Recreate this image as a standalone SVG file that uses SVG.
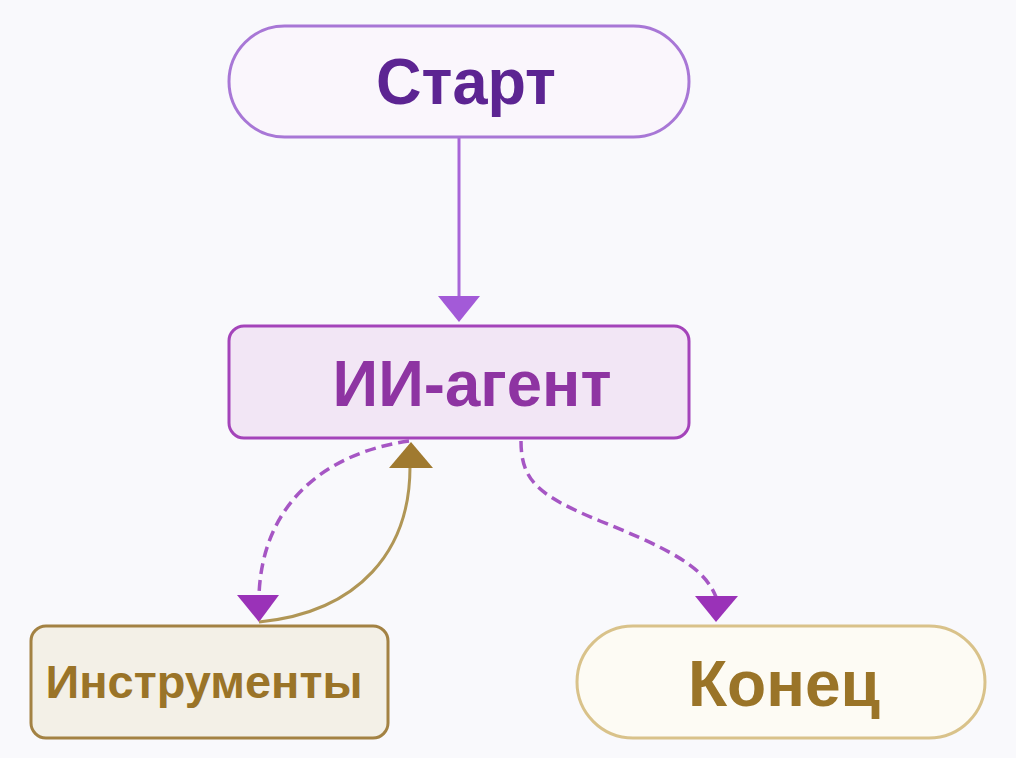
<svg xmlns="http://www.w3.org/2000/svg" width="1016" height="758" viewBox="0 0 1016 758">
<style>
text{font-family:"Liberation Sans",Arial,sans-serif;font-weight:bold;text-anchor:middle}
.purple{fill:#5c2492}
.violet{fill:#8e34a2}
.brown{fill:#9a7428}
.dash{fill:none;stroke:#a656c4;stroke-width:3.5;stroke-dasharray:11 6}
</style>
<rect width="1016" height="758" fill="#f9f9fc"/>
<g id="connectors">
<line x1="459" y1="138" x2="459" y2="297" stroke="#a866d8" stroke-width="3"/>
<polygon points="438,296 480,296 459,322" fill="#a35ad8"/>
<path class="dash" d="M409 441 C330 452 262 500 259 596"/>
<polygon points="237,595 279,595 259,622" fill="#9a32b8"/>
<path d="M259 622 C360 612 410 550 410 467" fill="none" stroke="#b09656" stroke-width="3"/>
<polygon points="389,468 433,468 411,442" fill="#a07a30"/>
<path class="dash" d="M521 441 C521 482 540 496 600 521 C680 553 705 570 716 597"/>
<polygon points="695,596 738,596 716,622" fill="#9a32b8"/>
</g>
<g id="start">
<rect x="229" y="26" width="460" height="111" rx="55.5" fill="#faf6fc" stroke="#a877d6" stroke-width="3"/>
<text class="purple" x="466" y="104" font-size="65" textLength="180" lengthAdjust="spacingAndGlyphs">Старт</text>
</g>
<g id="agent">
<rect x="229" y="326" width="460" height="112" rx="15" fill="#f2e6f5" stroke="#a444ba" stroke-width="3"/>
<text class="violet" x="472" y="406" font-size="65" textLength="279" lengthAdjust="spacingAndGlyphs">ИИ-агент</text>
</g>
<g id="tools">
<rect x="31" y="626" width="357" height="112" rx="15" fill="#f3f0e7" stroke="#a38243" stroke-width="3"/>
<text class="brown" x="204" y="698" font-size="46" textLength="317" lengthAdjust="spacingAndGlyphs">Инструменты</text>
</g>
<g id="end">
<rect x="577" y="626" width="408" height="112" rx="56" fill="#fdfbf4" stroke="#d9c28a" stroke-width="3"/>
<text class="brown" x="784" y="706" font-size="65" textLength="192" lengthAdjust="spacingAndGlyphs">Конец</text>
</g>
</svg>
